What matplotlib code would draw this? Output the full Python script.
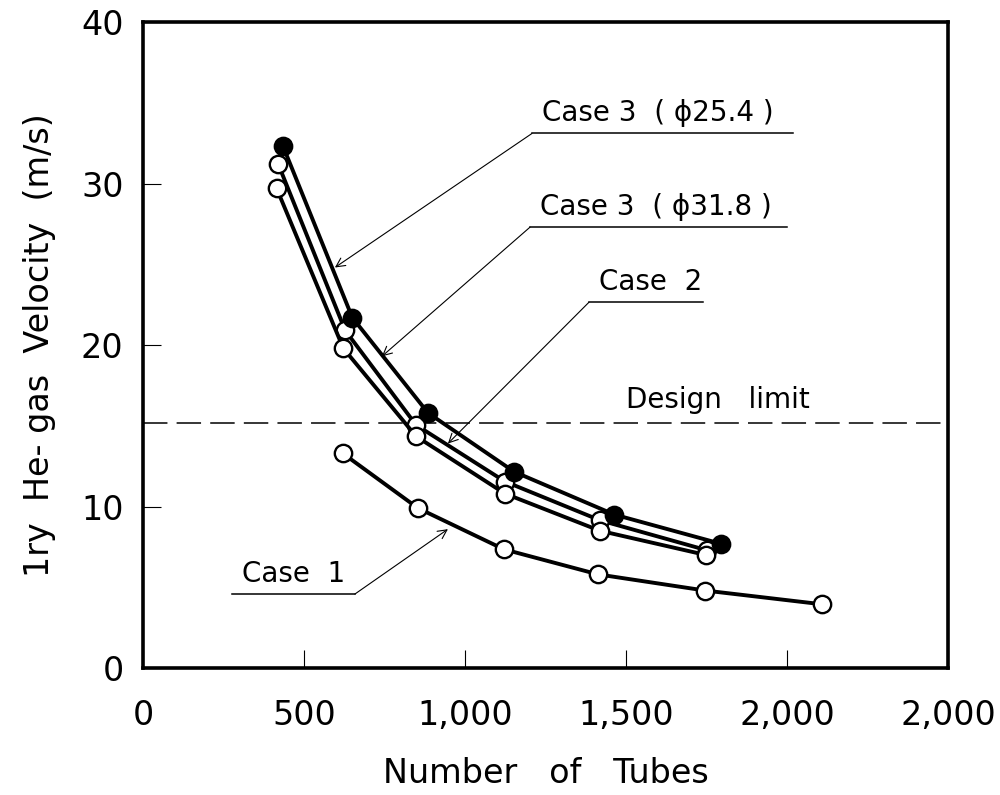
import matplotlib
matplotlib.use("Agg")
import matplotlib.pyplot as plt

# Primary helium gas velocity vs. number of heat-exchanger tubes
tubes_d254 = [435, 650, 885, 1153, 1464, 1794]
vel_d254 = [32.3, 21.7, 15.8, 12.15, 9.5, 7.7]

tubes_d318 = [420, 628, 848, 1124, 1419, 1750]
vel_d318 = [31.2, 20.9, 15.05, 11.55, 9.15, 7.3]

tubes_c2 = [415, 622, 848, 1124, 1419, 1748]
vel_c2 = [29.7, 19.8, 14.35, 10.8, 8.5, 7.0]

tubes_c1 = [620, 854, 1121, 1413, 1745, 2108]
vel_c1 = [13.3, 9.9, 7.35, 5.8, 4.8, 3.95]

design_limit = 15.2

x_ticks = [0, 500, 1000, 1500, 2000, 2500]
x_ticklabels = ["0", "500", "1,000", "1,500", "2,000", "2,000"]
y_ticks = [0, 10, 20, 30, 40]
y_ticklabels = ["0", "10", "20", "30", "40"]

plt.rcParams["font.family"] = ["DejaVu Sans"]

fig = plt.figure(figsize=(10, 7.95), dpi=100)
ax = fig.add_axes([0.143, 0.1597, 0.805, 0.8126])

line_kw = dict(color="black", lw=2.8, markersize=12.5, markeredgewidth=1.7,
               solid_joinstyle="round")

ax.plot(tubes_d318, vel_d318, marker="o", markerfacecolor="white",
        markeredgecolor="black", zorder=3, **line_kw)
ax.plot(tubes_c2, vel_c2, marker="o", markerfacecolor="white",
        markeredgecolor="black", zorder=4, **line_kw)
ax.plot(tubes_d254, vel_d254, marker="o", markerfacecolor="black",
        markeredgecolor="black", zorder=5, **line_kw)
ax.plot(tubes_c1, vel_c1, marker="o", markerfacecolor="white",
        markeredgecolor="black", zorder=4, **line_kw)

# design limit
ax.axhline(design_limit, color="black", lw=1.1, dashes=(16, 6), zorder=2)
ax.text(1500, design_limit + 0.55, "Design   limit", fontsize=20,
        ha="left", va="bottom")

ax.set_xlim(0, 2500)
ax.set_ylim(0, 40)
ax.set_xticks(x_ticks)
ax.set_xticklabels(x_ticklabels)
ax.set_yticks(y_ticks)
ax.set_yticklabels(y_ticklabels)
ax.tick_params(axis="both", direction="in", length=13, width=0.8,
               labelsize=24, top=False, right=False)
ax.tick_params(axis="x", pad=22)
ax.tick_params(axis="y", pad=14)
for s in ax.spines.values():
    s.set_linewidth(2.6)

ax.set_xlabel("Number   of   Tubes", fontsize=24, labelpad=18)
ax.set_ylabel("1ry  He- gas  Velocity  (m/s)", fontsize=24, labelpad=18)

# leader annotations: (label, arrow tip, underline start, underline end)
callouts = [
    ("Case 3  ( \u03d525.4 )", (596, 24.8), (1208, 33.1), (2019, 33.1)),
    ("Case 3  ( \u03d531.8 )", (742, 19.3), (1202, 27.3), (2000, 27.3)),
    ("Case  2", (947, 13.9), (1385, 22.65), (1739, 22.65)),
    ("Case  1", (947, 8.6), (658, 4.58), (276, 4.58)),
]
for label, tip, start, end in callouts:
    ax.plot([start[0], end[0]], [start[1], end[1]], color="black", lw=1.1,
            zorder=2)
    ax.annotate("", xy=tip, xytext=start,
                arrowprops=dict(arrowstyle="->", color="black", lw=0.8,
                                shrinkA=0, shrinkB=0,
                                mutation_scale=16),
                zorder=2)
    left = min(start[0], end[0])
    ax.text(left + 30, start[1] + 0.4, label, fontsize=20, ha="left",
            va="bottom")

fig.savefig("out.png", dpi=100)
